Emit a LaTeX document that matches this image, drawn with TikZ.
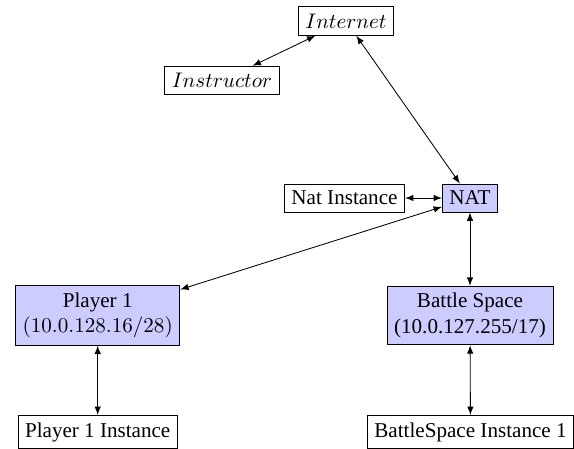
\documentclass[tikz,border=0pt]{standalone}
\usepackage{fontspec}
\setmainfont{Liberation Serif}
\usetikzlibrary{arrows}
\tikzset{
	every node/.style = {font=\normalsize},
	box/.style = {draw, rectangle},
	subnet/.style = {box, fill=blue!20, align=center},
	link/.style = {<->, >=latex}
}

\begin{document}
\begin{tikzpicture}[x=0.4739pt, y=-0.4739pt]
		\useasboundingbox (0,0) rectangle (574,449);
		% outside
		\node[box] (internet) at (346,21) {$Internet$};
		\node[box] (instructor) at (222,80.5) {$Instructor$};
		% gateway
		\node[box, fill=blue!20] (nat) at (470,198) {NAT};
		\node[box] (natinst) at (344.5,198) {Nat Instance};
		% subnets
		\node[subnet] (player) at (97.7,315.5) {Player 1\\ $(10.0.128.16/28)$};
		\node[subnet] (battle) at (470,315.5) {Battle Space\\ (10.0.127.255/17)};
		% instances
		\node[box] (pinst) at (97.7,432) {Player 1 Instance};
		\node[box] (binst) at (470.5,432) {BattleSpace Instance 1};

		\draw[link] (instructor) -- (internet);
		\draw[link] (internet) -- (nat);
		\draw[link] (natinst) -- (nat);
		\draw[link] (nat) -- (player);
		\draw[link] (nat) -- (battle);
		\draw[link] (player) -- (pinst);
		\draw[link] (battle) -- (binst);
	\end{tikzpicture}
\end{document}
